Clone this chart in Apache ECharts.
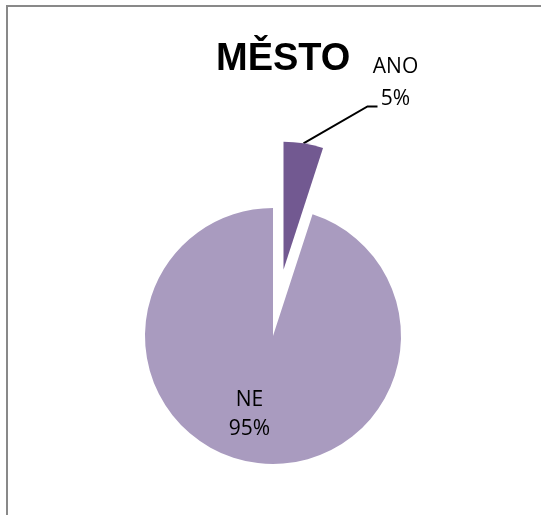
<!DOCTYPE html>
<html>
<head>
<meta charset="utf-8">
<script src="https://cdn.jsdelivr.net/npm/echarts@6/dist/echarts.min.js"></script>
<style>
  html, body { margin: 0; padding: 0; background: #ffffff; }
  #chart { width: 541px; height: 515px; }
</style>
</head>
<body>
<div id="chart"></div>
<script>
// Answers for the town question
const categories = ['ANO', 'NE'];
const values = [5, 95];
const titleText = 'MĚSTO';

const colors = { ANO: '#725991', NE: '#a99bbf' };
const labelFont = 'Open Sans';

// Pie geometry
const cx = 273, cy = 336, radius = 128;
const explodeDist = 67;

// The "ANO" slice is pulled out along its bisector
const total = values.reduce((a, b) => a + b, 0);
const midAngle = Math.PI * values[0] / total; // clockwise from 12 o'clock
const explodedCenter = [cx + explodeDist * Math.sin(midAngle), cy - explodeDist * Math.cos(midAngle)];

function buildData(visibleName) {
  return categories.map((name, i) => {
    const shown = name === visibleName;
    return {
      name: name,
      value: values[i],
      itemStyle: { color: shown ? colors[name] : 'rgba(0,0,0,0)' },
      label: { show: shown },
      labelLine: { show: shown }
    };
  });
}

const chart = echarts.init(document.getElementById('chart'), null, { renderer: 'canvas' });

chart.setOption({
  animation: false,
  title: {
    text: titleText,
    left: 211,
    top: 36,
    textStyle: { fontFamily: 'Liberation Sans', fontWeight: 'bold', fontSize: 38, color: '#000000' }
  },
  graphic: [{
    type: 'rect',
    shape: { x: 7, y: 6, width: 700, height: 700 },
    style: { fill: 'none', stroke: '#898989', lineWidth: 2 },
    silent: true
  }],
  series: [
    {
      // Main body of the pie ("NE")
      type: 'pie',
      silent: true,
      center: [cx, cy],
      radius: radius,
      startAngle: 90,
      clockwise: true,
      data: buildData('NE'),
      label: {
        position: 'inside',
        formatter: '{b}\n{d}%',
        fontFamily: labelFont,
        fontSize: 21,
        lineHeight: 29,
        color: '#000000',
        align: 'center'
      },
      labelLayout: { dx: -13, dy: 12 },
      emphasis: { disabled: true }
    },
    {
      // Exploded slice ("ANO")
      type: 'pie',
      silent: true,
      center: explodedCenter,
      radius: radius,
      startAngle: 90,
      clockwise: true,
      data: buildData('ANO'),
      label: {
        position: 'outside',
        formatter: '{b}\n{d}%',
        fontFamily: labelFont,
        fontSize: 21,
        lineHeight: 32,
        color: '#000000',
        align: 'center'
      },
      labelLine: {
        show: true,
        lineStyle: { color: '#000000', width: 2 }
      },
      labelLayout: function (params) {
        if (params.dataIndex !== 0 || !params.labelLinePoints) return {};
        const p0 = params.labelLinePoints[0];
        return {
          x: p0[0] + 92,
          y: p0[1] - 60,
          align: 'center',
          verticalAlign: 'middle',
          labelLinePoints: [
            [p0[0], p0[1]],
            [p0[0] + 64, p0[1] - 37],
            [p0[0] + 74, p0[1] - 37]
          ]
        };
      },
      emphasis: { disabled: true }
    }
  ]
});
</script>
</body>
</html>
